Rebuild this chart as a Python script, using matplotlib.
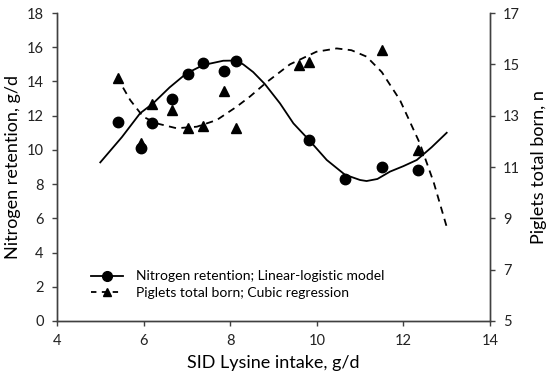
import matplotlib
matplotlib.use('Agg')
import matplotlib.pyplot as plt
from matplotlib.lines import Line2D

plt.rcParams['font.family'] = ['Lato', 'DejaVu Sans']

# observed points
lys_n = [5.4, 5.95, 6.2, 6.66, 7.03, 7.38, 7.85, 8.13, 9.83, 10.65, 11.5, 12.33]
n_ret = [11.65, 10.1, 11.6, 13.0, 14.46, 15.05, 14.6, 15.2, 10.58, 8.3, 8.99, 8.85]

lys_p = [5.4, 5.95, 6.2, 6.66, 7.03, 7.38, 7.85, 8.13, 9.59, 9.83, 11.5, 12.33]
piglets = [14.45, 11.93, 13.45, 13.22, 12.52, 12.6, 13.96, 12.52, 14.97, 15.08, 15.56, 11.66]

# fitted curves
fit_n_x = [5.0, 5.5, 5.92, 6.22, 6.6, 6.99, 7.38, 7.84, 8.11, 8.3, 8.53, 8.8,
           9.15, 9.46, 9.82, 10.23, 10.65, 11.0, 11.15, 11.4, 11.69, 12.0, 12.31,
           12.65, 13.0]
fit_n_y = [9.27, 10.75, 12.14, 12.72, 13.65, 14.47, 14.96, 15.21, 15.22, 15.0,
           14.55, 13.85, 12.72, 11.55, 10.58, 9.41, 8.55, 8.24, 8.18, 8.3, 8.73,
           9.05, 9.41, 10.15, 11.0]

fit_p_x = [5.38, 5.69, 5.99, 6.3, 6.76, 7.23, 7.69, 8.15, 8.46, 8.84, 9.38,
           9.99, 10.46, 10.8, 11.15, 11.5, 11.92, 12.38, 12.7, 13.0]
fit_p_y = [14.52, 13.61, 12.96, 12.7, 12.51, 12.57, 12.83, 13.35, 13.75, 14.3,
           15.0, 15.49, 15.62, 15.55, 15.3, 14.7, 13.61, 11.92, 10.4, 8.67]

fig = plt.figure(figsize=(5.5, 3.78), dpi=100)
ax = fig.add_axes([0.1036, 0.1508, 0.7873, 0.8148])
ax2 = ax.twinx()

ax.plot(fit_n_x, fit_n_y, color='black', lw=1.3)
ax.plot(lys_n, n_ret, 'o', color='black', ms=7.5, zorder=4)
ax2.plot(fit_p_x, fit_p_y, color='black', lw=1.3, ls=(0, (4, 3)))
ax2.plot(lys_p, piglets, '^', color='black', ms=6.5, zorder=4)

ax.set_xlim(4, 14)
ax.set_ylim(0, 18)
ax.set_xticks(range(4, 15, 2))
ax.set_yticks(range(0, 19, 2))
ax2.set_ylim(5, 17)
ax2.set_yticks(range(5, 18, 2))

for a in (ax, ax2):
    a.spines['top'].set_visible(False)
    for s in a.spines.values():
        s.set_color('#404040')
        s.set_linewidth(1.0)
    a.tick_params(labelsize=10.5, length=3.5, width=1.0, color='#404040',
                  labelcolor='#222222', pad=6)

ax.set_xlabel('SID Lysine intake, g/d', fontsize=13, labelpad=5)
ax.set_ylabel('Nitrogen retention, g/d', fontsize=13, labelpad=4)
ax2.set_ylabel('Piglets total born, n', fontsize=13, labelpad=8)

handles = [
    Line2D([], [], color='black', lw=1.3, marker='o', ms=7),
    Line2D([], [], color='black', lw=1.3, ls=(0, (3, 3)), marker='^', ms=6),
]
ax.legend(handles, ['Nitrogen retention; Linear-logistic model',
                    'Piglets total born; Cubic regression'],
          loc='lower left', bbox_to_anchor=(0.05, 0.03), frameon=False,
          fontsize=10, handlelength=2.3, labelspacing=0.35, handletextpad=0.9)

fig.savefig('out.png', dpi=100)
